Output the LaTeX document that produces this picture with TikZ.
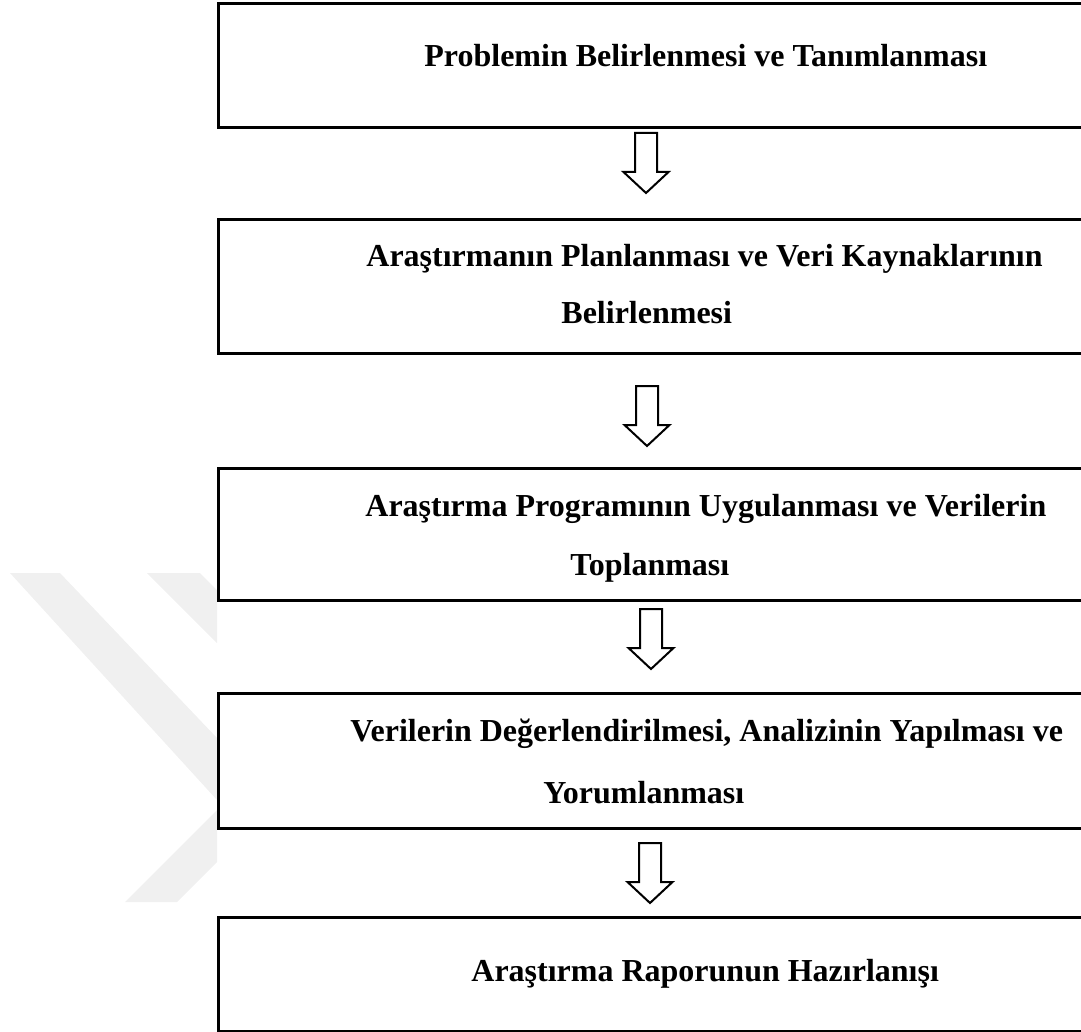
\documentclass[tikz,border=0pt]{standalone}
\usepackage{fontspec}
\setmainfont{Liberation Serif}
\usetikzlibrary{positioning}
\tikzset{
  kutu/.style={draw, line width=1.5pt, fill=white, anchor=north west, inner sep=0pt},
  yazi/.style={anchor=base west, inner sep=0pt, font=\bfseries\fontsize{16pt}{19pt}\selectfont},
  blokok/.style={draw, line width=1pt, fill=white, line join=miter},
  filigran/.style={fill=black!6, draw=none}
}
\begin{document}
\begin{tikzpicture}[x=0.5pt, y=-0.5pt]
    \useasboundingbox (0,0) rectangle (1081,1032);
    % Filigran
    \fill[filigran] (10,573) -- (60,573) -- (217,738) -- (217,800) -- cycle;
    \fill[filigran] (147,573) -- (200,573) -- (217,590) -- (217,643) -- cycle;
    \fill[filigran] (217,810) -- (217,862) -- (177,902) -- (125,902) -- cycle;
    % Kutular
    \node[kutu, minimum width=445pt, minimum height=62pt] (k1) at (217,2) {};
    \node[kutu, minimum width=445pt, minimum height=67pt] (k2) at (217,218) {};
    \node[kutu, minimum width=445pt, minimum height=66pt] (k3) at (217,467) {};
    \node[kutu, minimum width=445pt, minimum height=67.5pt] (k4) at (217,692) {};
    \node[kutu, minimum width=445pt, minimum height=57pt] (k5) at (217,916) {};
    % Yazilar
    \node[yazi] (y1) at (424,67) {Problemin Belirlenmesi ve Tanımlanması};
    \node[yazi] (y2a) at (366,267) {Araştırmanın Planlanması ve Veri Kaynaklarının};
    \node[yazi] (y2b) at (561,323) {Belirlenmesi};
    \node[yazi] (y3a) at (365,516) {Araştırma Programının Uygulanması ve Verilerin};
    \node[yazi] (y3b) at (570,575) {Toplanması};
    \node[yazi] (y4a) at (350,741) {Verilerin Değerlendirilmesi, Analizinin Yapılması ve};
    \node[yazi] (y4b) at (543,803) {Yorumlanması};
    \node[yazi] (y5) at (471,981) {Araştırma Raporunun Hazırlanışı};
    % Oklar
    \coordinate (o1) at (646,133);
    \coordinate (o2) at (647,386);
    \coordinate (o3) at (651,609);
    \coordinate (o4) at (650,843);
    \foreach \o in {o1,o2,o3,o4}
      \draw[blokok, shift={(\o)}] (-11,0) -- (11,0) -- (11,39) -- (22.5,39) -- (0,60) -- (-22.5,39) -- (-11,39) -- cycle;
\end{tikzpicture}
\end{document}
